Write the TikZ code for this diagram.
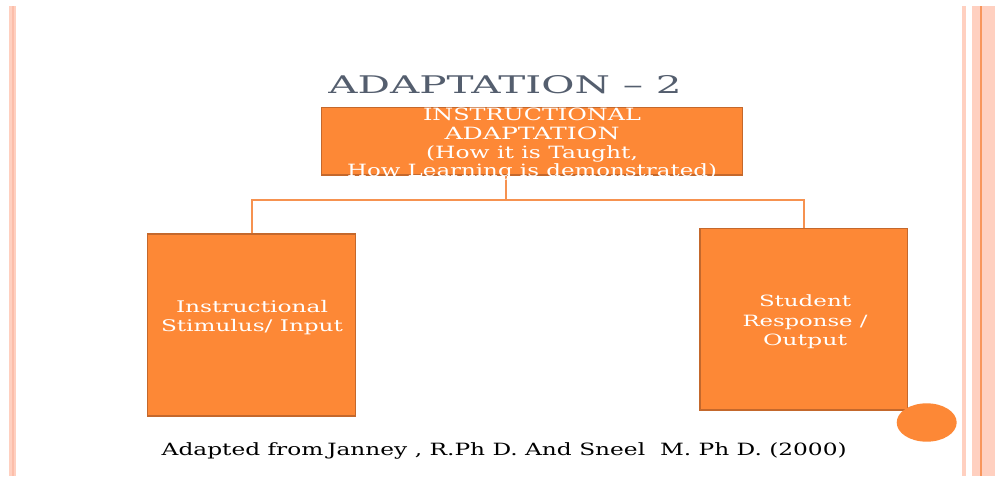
\documentclass[tikz,border=0pt]{standalone}
\usepackage{graphicx}
\usepackage{fontspec}
\setmainfont{DejaVu Serif}

\definecolor{boxfill}{RGB}{253,136,54}
\definecolor{boxedge}{RGB}{196,104,44}
\definecolor{connorange}{RGB}{246,146,80}
\definecolor{titlegray}{RGB}{84,94,110}
\definecolor{peach}{RGB}{255,208,192}
\definecolor{peachdark}{RGB}{252,190,170}
\definecolor{stripeline}{RGB}{248,150,92}

% stretch one line of text horizontally to a given width (in pt)
\newlength\fitlen
\newcommand\fitline[2]{%
  \settowidth\fitlen{#2}%
  \pgfmathsetmacro\fitxs{#1/\fitlen}%
  \scalebox{\fitxs}[1]{#2}}

\begin{document}
\begin{tikzpicture}[x=1pt,y=-1pt,
  block/.style={draw=boxedge, line width=1.3pt, fill=boxfill, inner sep=0pt},
  blocktext/.style={text=white, align=center, inner sep=0pt, anchor=base},
  linkline/.style={draw=connorange, line width=2pt},
]
\useasboundingbox (0,0) rectangle (995,477);
\fill[white] (0,0) rectangle (995,477);

% side stripes
\fill[peach] (9,6) rectangle (16,476);
\fill[peachdark] (11.8,6) rectangle (14,476);
\fill[peach] (962,6) rectangle (966,476);
\fill[peach] (971.7,6) rectangle (995,476);
\fill[stripeline] (979.8,6) rectangle (981.6,476);

% title
\node[text=titlegray, inner sep=0pt, anchor=base, font=\fontsize{24.3}{28}\selectfont]
  (title) at (505,93.3) {\fitline{353.4}{ADAPTATION – 2}};

% boxes
\node[block, minimum width=420.6pt, minimum height=67.3pt] (top) at (532,141.35) {};
\node[block, minimum width=208.4pt, minimum height=182pt] (left) at (251.5,325) {};
\node[block, minimum width=207.3pt, minimum height=181.3pt] (right) at (803.65,319.35) {};

% connectors
\coordinate (bus) at (505.7,199.7);
\path[linkline] (top.south -| bus) -- (bus);
\path[linkline] (left.north) |- (bus) -| (right.north);

% box labels (anchored on the baseline of their last line)
\node[blocktext, font=\fontsize{16.9}{18.7}\selectfont] (toptext) at (532,176.8)
  {\fitline{218}{INSTRUCTIONAL}\\
   \fitline{175}{ADAPTATION}\\
   \fitline{212}{(How it is Taught,}\\
   \fitline{370}{How Learning is demonstrated)}};
\node[blocktext, font=\fontsize{16}{18.3}\selectfont] (lefttext) at (252,331)
  {\fitline{152}{Instructional}\\
   \fitline{182}{Stimulus/ Input}};
\node[blocktext, font=\fontsize{15.5}{19.5}\selectfont] (righttext) at (805,345.7)
  {\fitline{92}{Student}\\
   \fitline{125}{Response /}\\
   \fitline{84}{Output}};

% corner dot
\fill[boxfill] (926.7,422.5) ellipse [x radius=30, y radius=19.2];

% source line
\node[inner sep=0pt, anchor=base, font=\fontsize{16.9}{20}\selectfont] (source) at (504.2,455.5)
  {\fitline{685}{Adapted from\,Janney , R.Ph D. And Sneel\ \ M. Ph D. (2000)}};
\end{tikzpicture}
\end{document}
